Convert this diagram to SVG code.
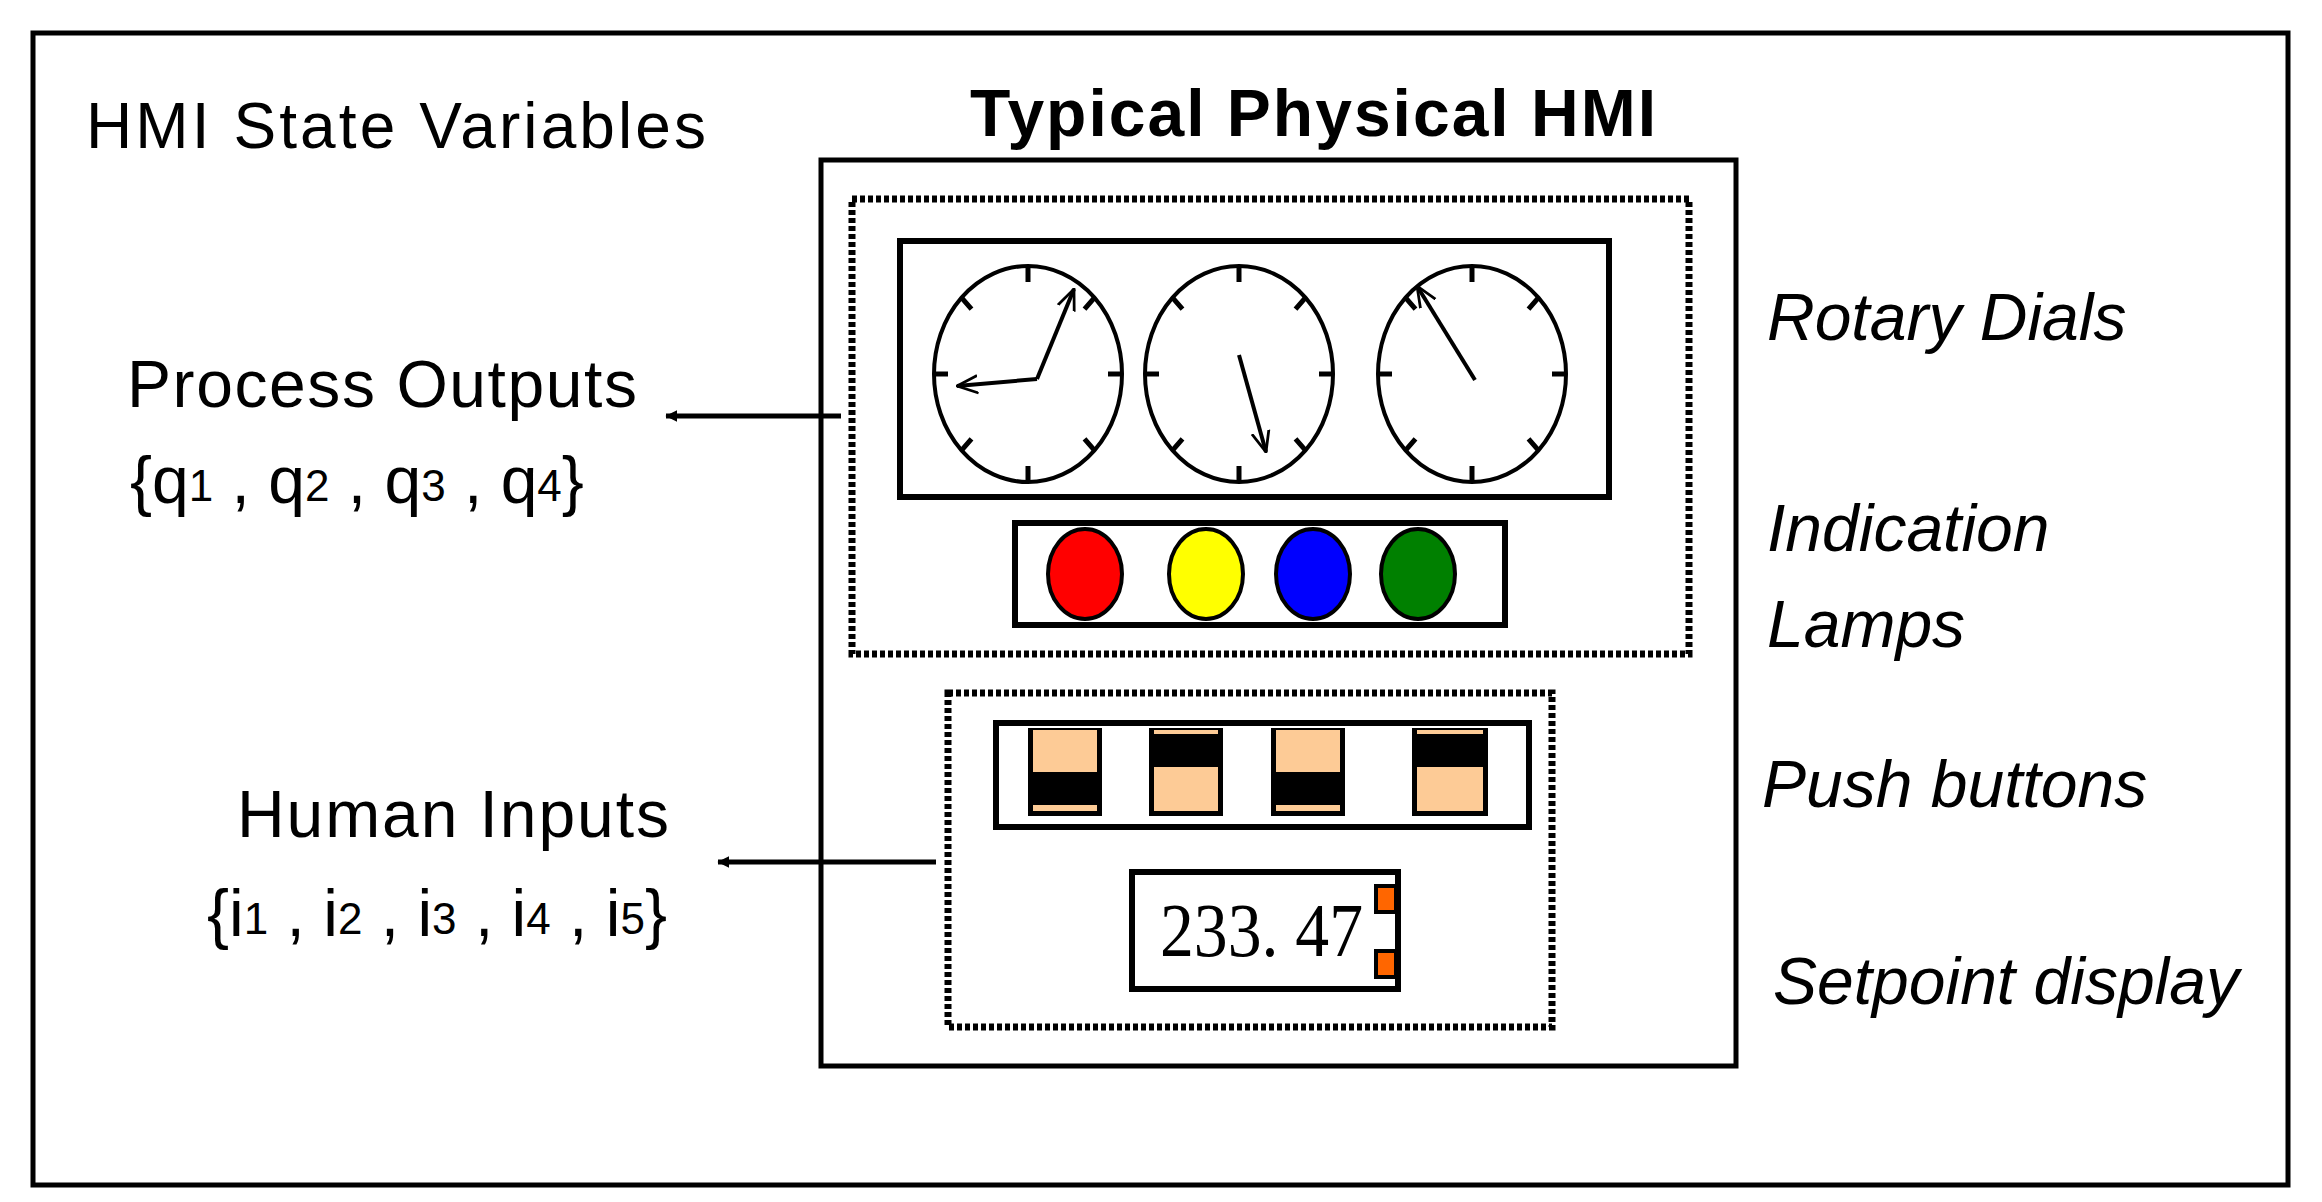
<svg xmlns="http://www.w3.org/2000/svg" xmlns:xlink="http://www.w3.org/1999/xlink" width="2322" height="1202" viewBox="0 0 2322 1202">
<style>
.t{font-family:"Liberation Sans",Arial,sans-serif;fill:#000}
.it{font-family:"Liberation Sans",Arial,sans-serif;font-style:italic;font-size:66px}
.dash{fill:none;stroke:#000;stroke-width:7;stroke-dasharray:5 3}
.box{fill:#fff;stroke:#000;stroke-width:6}
.hand{stroke:#000;stroke-width:4;fill:none}
.peach{fill:#fdcb96}
</style>
<defs>
<marker id="ah" viewBox="0 0 20 20" refX="19" refY="10" markerWidth="12" markerHeight="12" orient="auto" markerUnits="userSpaceOnUse">
<path d="M0,0 L20,10 L0,20 z" fill="#000"/>
</marker>
<marker id="vh" viewBox="0 0 20 20" refX="19" refY="10" markerWidth="22" markerHeight="22" orient="auto" markerUnits="userSpaceOnUse">
<path d="M0,2 L19,10 L0,18" fill="none" stroke="#000" stroke-width="2.5"/>
</marker>
<g id="face">
<ellipse cx="0" cy="0" rx="94" ry="108" fill="#fff" stroke="#000" stroke-width="4"/>
<path d="M0,-108V-92M0,108V92M-94,0H-80M94,0H80M66.5,-76.4L56.5,-64.9M-66.5,-76.4L-56.5,-64.9M66.5,76.4L56.5,64.9M-66.5,76.4L-56.5,64.9" stroke="#000" stroke-width="5"/>
</g>
</defs>
<rect x="0" y="0" width="2322" height="1202" fill="#fff"/>
<rect x="33" y="33" width="2255" height="1152" fill="none" stroke="#000" stroke-width="5"/>
<text class="t" x="86" y="148" font-size="64" textLength="620">HMI State Variables</text>
<text class="t" x="970" y="136" font-size="66" font-weight="bold" textLength="686">Typical Physical HMI</text>
<g id="hmi">
<rect x="821" y="160" width="915" height="906" fill="none" stroke="#000" stroke-width="5"/>
</g>
<g id="outputs-panel">
<rect class="dash" x="852" y="199" width="837" height="455"/>
<rect class="box" x="900" y="241" width="709" height="256"/>
<use xlink:href="#face" transform="translate(1028,374)"/>
<use xlink:href="#face" transform="translate(1239,374)"/>
<use xlink:href="#face" transform="translate(1472,374)"/>
<path class="hand" d="M1037,379 L1074,289" marker-end="url(#vh)"/>
<path class="hand" d="M1037,379 L957,386" marker-end="url(#vh)"/>
<path class="hand" d="M1239,355 L1266,452" marker-end="url(#vh)"/>
<path class="hand" d="M1475,380 L1417,286" marker-end="url(#vh)"/>
<rect class="box" x="1015" y="523" width="490" height="102"/>
<ellipse cx="1085" cy="574" rx="37" ry="45" fill="#f00" stroke="#000" stroke-width="4"/>
<ellipse cx="1206" cy="574" rx="37" ry="45" fill="#ff0" stroke="#000" stroke-width="4"/>
<ellipse cx="1313" cy="574" rx="37" ry="45" fill="#00f" stroke="#000" stroke-width="4"/>
<ellipse cx="1418" cy="574" rx="37" ry="45" fill="#008000" stroke="#000" stroke-width="4"/>
</g>
<g id="inputs-panel">
<rect class="dash" x="948" y="693" width="604" height="334"/>
<rect class="box" x="996" y="723" width="533" height="104"/>
<g id="btn-down">
<rect x="1028" y="728" width="74" height="88" fill="#000"/>
<rect class="peach" x="1033" y="730" width="64" height="42"/>
<rect class="peach" x="1033" y="805" width="64" height="6"/>
</g>
<g id="btn-up">
<rect x="1149" y="728" width="74" height="88" fill="#000"/>
<rect class="peach" x="1154" y="730" width="64" height="4"/>
<rect class="peach" x="1154" y="767" width="64" height="44"/>
</g>
<rect x="1271" y="728" width="74" height="88" fill="#000"/>
<rect class="peach" x="1276" y="730" width="64" height="42"/>
<rect class="peach" x="1276" y="805" width="64" height="6"/>
<rect x="1412" y="728" width="76" height="88" fill="#000"/>
<rect class="peach" x="1417" y="730" width="66" height="4"/>
<rect class="peach" x="1417" y="767" width="66" height="44"/>
<rect class="box" x="1132" y="872" width="266" height="117"/>
<text x="1160" y="956" font-family="Liberation Serif,serif" font-size="76" textLength="203" lengthAdjust="spacingAndGlyphs">233. 47</text>
<rect x="1376" y="886" width="20" height="26" fill="#ff6600" stroke="#000" stroke-width="4"/>
<rect x="1376" y="951" width="20" height="26" fill="#ff6600" stroke="#000" stroke-width="4"/>
</g>
<g id="connectors">
<line x1="841" y1="416" x2="666" y2="416" stroke="#000" stroke-width="5" marker-end="url(#ah)"/>
<line x1="936" y1="862" x2="718" y2="862" stroke="#000" stroke-width="5" marker-end="url(#ah)"/>
</g>
<text class="t" x="127" y="407" font-size="66" textLength="510">Process Outputs</text>
<text class="t" x="130" y="503" font-size="66">{q<tspan font-size="44" dy="-2">1</tspan><tspan dy="2"> , q</tspan><tspan font-size="44" dy="-2">2</tspan><tspan dy="2"> , q</tspan><tspan font-size="44" dy="-2">3</tspan><tspan dy="2"> , q</tspan><tspan font-size="44" dy="-2">4</tspan><tspan dy="2">}</tspan></text>
<text class="t" x="237" y="837" font-size="66" textLength="432">Human Inputs</text>
<text class="t" x="207" y="936" font-size="66">{i<tspan font-size="44" dy="-2">1</tspan><tspan dy="2"> , i</tspan><tspan font-size="44" dy="-2">2</tspan><tspan dy="2"> , i</tspan><tspan font-size="44" dy="-2">3</tspan><tspan dy="2"> , i</tspan><tspan font-size="44" dy="-2">4</tspan><tspan dy="2"> , i</tspan><tspan font-size="44" dy="-2">5</tspan><tspan dy="2">}</tspan></text>
<text class="it" x="1767" y="340">Rotary Dials</text>
<text class="it" x="1767" y="551">Indication</text>
<text class="it" x="1767" y="647">Lamps</text>
<text class="it" x="1762" y="807">Push buttons</text>
<text class="it" x="1773" y="1004">Setpoint display</text>
</svg>
